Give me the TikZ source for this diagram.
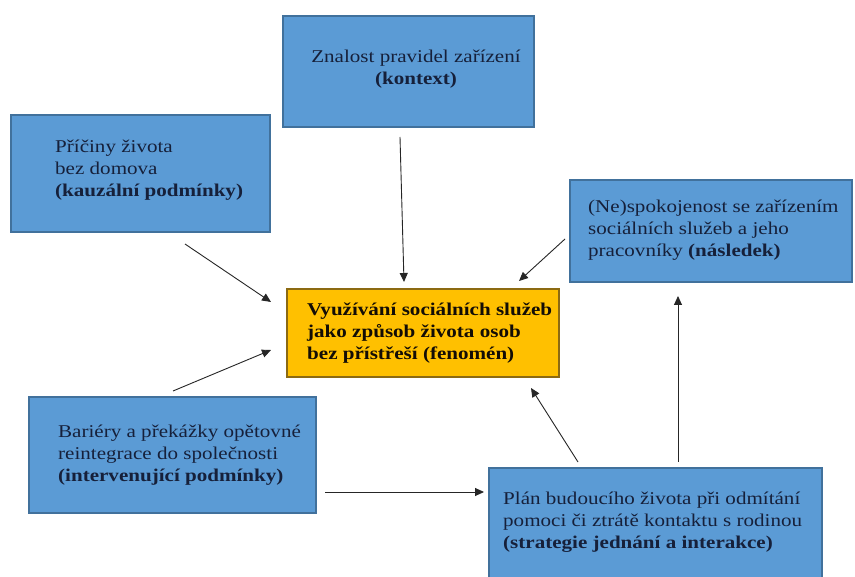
\documentclass[tikz,border=0pt]{standalone}
\usepackage{fontspec}
\usepackage{graphicx}
\setmainfont{Liberation Serif}
\usetikzlibrary{arrows.meta}
\definecolor{boxblue}{HTML}{5B9BD5}
\definecolor{boxedge}{HTML}{41719C}
\definecolor{boxgold}{HTML}{FFC000}
\definecolor{goldedge}{HTML}{8C6A12}
\definecolor{inkblue}{HTML}{16203A}
\newcommand{\stretchtext}[2]{\scalebox{1.17}[1]{\begin{tabular}{@{}#1@{}}#2\end{tabular}}}
\tikzset{
  bluebox/.style={draw=boxedge, line width=1.2pt, fill=boxblue, inner sep=0pt},
  goldbox/.style={draw=goldedge, line width=1.2pt, fill=boxgold, inner sep=0pt},
  txt/.style={inner sep=0pt, text=inkblue, font=\fontsize{18}{21.7}\selectfont},
  conn/.style={draw=black!85, line width=0.9pt, -{Triangle[length=9pt,width=8pt]}}
}
\begin{document}
\begin{tikzpicture}[x=1pt,y=-1pt]
\useasboundingbox[fill=white] (0,0) rectangle (855,577);
% boxes
\node[bluebox, minimum width=251pt, minimum height=111pt] (ctx) at (408.5,71.5) {};
\node[bluebox, minimum width=259pt, minimum height=117pt] (cause) at (140.5,173.5) {};
\node[bluebox, minimum width=282pt, minimum height=102pt] (cons) at (711,231) {};
\node[goldbox, minimum width=272pt, minimum height=88pt] (phen) at (423,333) {};
\node[bluebox, minimum width=287pt, minimum height=116pt] (interv) at (172.5,455) {};
\node[bluebox, minimum width=333pt, minimum height=112pt] (strat) at (655.5,524) {};
% texts
\node[txt, anchor=center] (ctxt) at (416,69) {\stretchtext{c}{Znalost pravidel zařízení\\\textbf{(kontext)}}};
\node[txt, anchor=west] (causet) at (55,170) {\stretchtext{l}{Příčiny života\\bez domova\\\textbf{(kauzální podmínky)}}};
\node[txt, anchor=west] (const) at (588,230) {\stretchtext{l}{(Ne)spokojenost se zařízením\\sociálních služeb a jeho\\pracovníky \textbf{(následek)}}};
\node[txt, anchor=west, text=black!90!brown] (phent) at (307,333) {\stretchtext{l}{\textbf{Využívání sociálních služeb}\\\textbf{jako způsob života osob}\\\textbf{bez přístřeší (fenomén)}}};
\node[txt, anchor=west] (intervt) at (58,455) {\stretchtext{l}{Bariéry a překážky opětovné\\reintegrace do společnosti\\\textbf{(intervenující podmínky)}}};
\node[txt, anchor=west] (stratt) at (503,522) {\stretchtext{l}{Plán budoucího života při odmítání\\pomoci či ztrátě kontaktu s rodinou\\\textbf{(strategie jednání a interakce)}}};
% connector ends
\coordinate (a1) at (400,137);
\coordinate (b1) at (404,282);
\coordinate (a2) at (185,244);
\coordinate (b2) at (271,302);
\coordinate (a3) at (173,391);
\coordinate (b3) at (271,350);
\coordinate (a4) at (565,239);
\coordinate (b4) at (519,281);
\coordinate (a5) at (325,492);
\coordinate (b5) at (484,492);
\coordinate (a6) at (578,462);
\coordinate (b6) at (531,388);
\coordinate (a7) at (678,462);
\coordinate (b7) at (678,296);
\draw[conn] (a1) -- (b1);
\draw[conn] (a2) -- (b2);
\draw[conn] (a3) -- (b3);
\draw[conn] (a4) -- (b4);
\draw[conn] (a5) -- (b5);
\draw[conn] (a6) -- (b6);
\draw[conn] (a7) -- (b7);
\end{tikzpicture}
\end{document}
